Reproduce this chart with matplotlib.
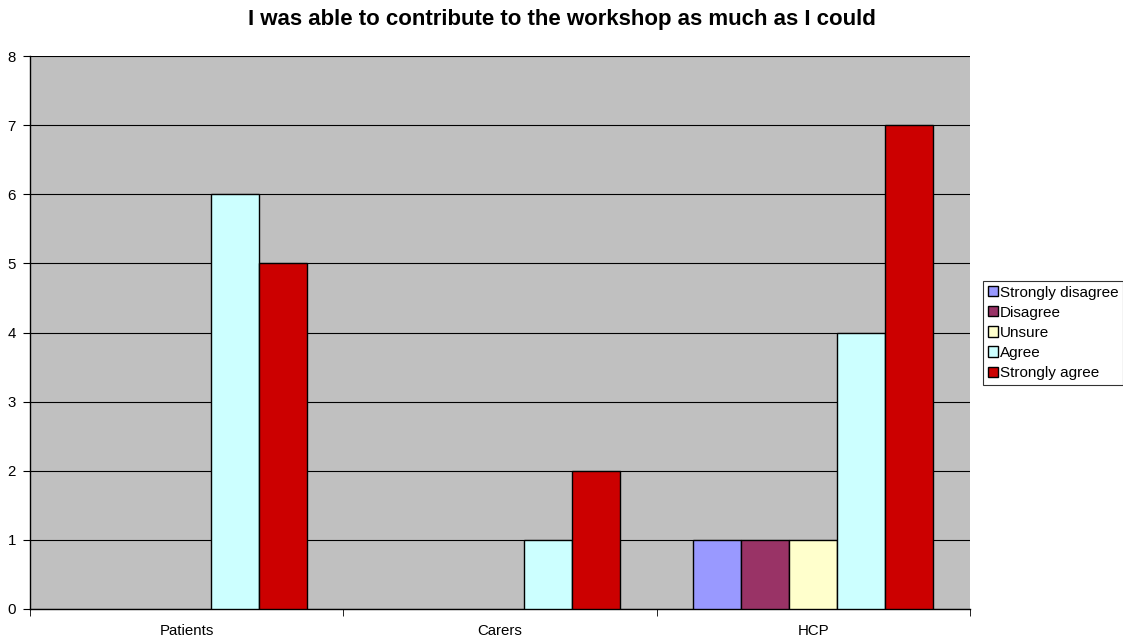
import matplotlib
matplotlib.use("Agg")
import matplotlib.pyplot as plt
import numpy as np

categories = ["Patients", "Carers", "HCP"]
series_names = ["Strongly disagree", "Disagree", "Unsure", "Agree", "Strongly agree"]
strongly_disagree = [0, 0, 1]
disagree = [0, 0, 1]
unsure = [0, 0, 1]
agree = [6, 1, 4]
strongly_agree = [5, 2, 7]
colors = ["#9999FF", "#993366", "#FFFFCC", "#CCFFFF", "#CC0000"]
title = "I was able to contribute to the workshop as much as I could"

plt.rcParams['font.family'] = ['Liberation Sans', 'DejaVu Sans']

fig = plt.figure(figsize=(11.23, 6.39), dpi=100)
ax = fig.add_axes([30/1123, 1 - 609/639, (970-30)/1123, (609-56)/639])
ax.set_facecolor("#C0C0C0")

x = np.arange(len(categories))
w = 48/313
all_series = [strongly_disagree, disagree, unsure, agree, strongly_agree]
handles = []
for i, (vals, name, c) in enumerate(zip(all_series, series_names, colors)):
    v = np.array(vals, dtype=float)
    v[v == 0] = np.nan
    b = ax.bar(x + (i - 2) * w, v, w, color=c, edgecolor="black", linewidth=1.0, label=name, zorder=3)
    handles.append(b)

ax.set_xlim(-0.5, 2.5)
ax.set_ylim(0, 8)
ax.set_yticks(range(0, 9))
ax.yaxis.grid(True, color="black", linewidth=0.8, zorder=1)
ax.set_axisbelow(True)
ax.set_xticks(x)
ax.set_xticklabels(categories, fontsize=10.8)
ax.tick_params(axis="x", which="major", length=0, pad=11)
ax.set_xticks([-0.5, 0.5, 1.5, 2.5], minor=True)
ax.tick_params(axis="x", which="minor", length=5, color="black")
ax.tick_params(axis="y", labelsize=10.8, length=5, color="black", pad=5)
for s in ["top", "right"]:
    ax.spines[s].set_visible(False)
for s in ["left", "bottom"]:
    ax.spines[s].set_color("black")
    ax.spines[s].set_linewidth(1.0)

fig.suptitle(title, x=0.5, y=1 - 20/639, va="center", fontsize=16, fontweight="bold")

leg = fig.legend(handles=handles, labels=series_names, loc="upper left",
                 bbox_to_anchor=(983/1123, 1 - 281/639), frameon=True, fancybox=False,
                 fontsize=11, handlelength=0.65, handleheight=0.65, handletextpad=0.15,
                 borderpad=0.3, labelspacing=0.4, borderaxespad=0)
leg.get_frame().set_edgecolor("black")
leg.get_frame().set_linewidth(0.8)

fig.savefig("out.png", dpi=100)
